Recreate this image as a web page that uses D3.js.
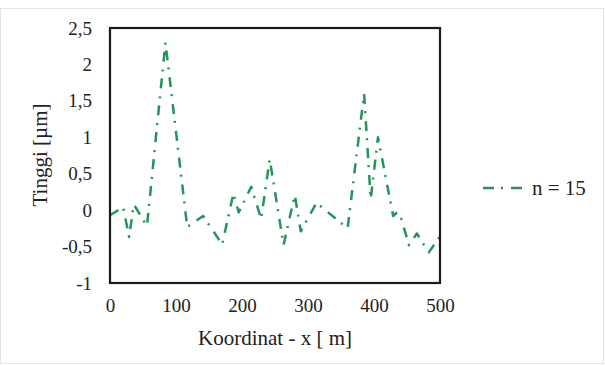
<!DOCTYPE html>
<html>
<head>
<meta charset="utf-8">
<script src="https://cdn.jsdelivr.net/npm/d3@7"></script>
<style>
  html, body { margin: 0; padding: 0; background: #fff; }
</style>
</head>
<body>
<svg id="chart" width="605" height="365"></svg>
<script>
// Surface profile, n = 15 (x in m, height in µm)
const koordinatX = [0, 20, 29, 36, 56, 84, 117, 141, 170, 187, 195, 214, 229, 242, 263, 280, 289, 313, 360, 385, 395, 406, 429, 435, 441, 453, 465, 483, 500];
const tinggi     = [-0.07, 0.04, -0.37, 0.08, -0.22, 2.30, -0.23, -0.08, -0.47, 0.23, -0.03, 0.32, -0.12, 0.70, -0.48, 0.21, -0.29, 0.10, -0.25, 1.60, 0.15, 1.00, -0.08, -0.03, -0.11, -0.48, -0.32, -0.58, -0.36];
const xTicks = [0, 100, 200, 300, 400, 500];
const yTicks = [-1, -0.5, 0, 0.5, 1, 1.5, 2, 2.5];
const seriesName = "n = 15";

const FONT = "'Liberation Serif', 'Times New Roman', serif";
const svg = d3.select("#chart").style("font-family", FONT);
const plot = { left: 110, right: 440, top: 28, bottom: 283 };
const lineColor = "#23955a";
const dashPattern = "10,7,2,8";

// outer chart area frame
svg.append("rect")
  .attr("x", 0.5).attr("y", 8.5).attr("width", 603).attr("height", 355)
  .attr("fill", "none").attr("stroke", "#e3e3e3").attr("stroke-width", 1);

const x = d3.scaleLinear().domain([0, 500]).range([plot.left, plot.right]);
const y = d3.scaleLinear().domain([-1, 2.5]).range([plot.bottom, plot.top]);

const fmt = v => String(v).replace(".", ",");

// x axis labels
const xAxis = d3.axisBottom(x).tickValues(xTicks).tickSize(0).tickPadding(16).tickFormat(d => d);
svg.append("g")
  .attr("transform", `translate(0,${plot.bottom})`)
  .call(xAxis)
  .attr("font-family", FONT).attr("font-size", 19)
  .call(g => g.select(".domain").remove())
  .selectAll("text").attr("fill", "#222");

// y axis labels
const yAxis = d3.axisLeft(y).tickValues(yTicks).tickSize(0).tickPadding(18).tickFormat(fmt);
svg.append("g")
  .attr("transform", `translate(${plot.left},0)`)
  .call(yAxis)
  .attr("font-family", FONT).attr("font-size", 19)
  .call(g => g.select(".domain").remove())
  .selectAll("text").attr("fill", "#222");

// data line
const pts = koordinatX.map((d, i) => [d, tinggi[i]]);
const line = d3.line().x(d => x(d[0])).y(d => y(d[1]));
svg.append("path")
  .datum(pts)
  .attr("d", line)
  .attr("fill", "none")
  .attr("stroke", lineColor)
  .attr("stroke-width", 2.5)
  .attr("stroke-dasharray", dashPattern)
  .attr("stroke-linejoin", "round");

// plot frame
svg.append("rect")
  .attr("x", plot.left).attr("y", plot.top)
  .attr("width", plot.right - plot.left).attr("height", plot.bottom - plot.top)
  .attr("fill", "none").attr("stroke", "#1a1a1a").attr("stroke-width", 2.2);

// axis titles
svg.append("text")
  .attr("x", (plot.left + plot.right) / 2).attr("y", 345)
  .attr("text-anchor", "middle").attr("font-size", 21).attr("fill", "#222")
  .attr("font-family", FONT)
  .text("Koordinat - x [ m]");

svg.append("text")
  .attr("transform", "translate(47,155) rotate(-90)")
  .attr("text-anchor", "middle").attr("font-size", 21).attr("fill", "#222")
  .attr("font-family", FONT)
  .text("Tinggi [µm]");

// legend
svg.append("line")
  .attr("x1", 483).attr("x2", 523).attr("y1", 188).attr("y2", 188)
  .attr("stroke", lineColor).attr("stroke-width", 2.5)
  .attr("stroke-dasharray", "11,7,2,8");
svg.append("text")
  .attr("x", 532).attr("y", 195)
  .attr("font-size", 21).attr("fill", "#222")
  .attr("font-family", FONT)
  .text(seriesName);
</script>
</body>
</html>
